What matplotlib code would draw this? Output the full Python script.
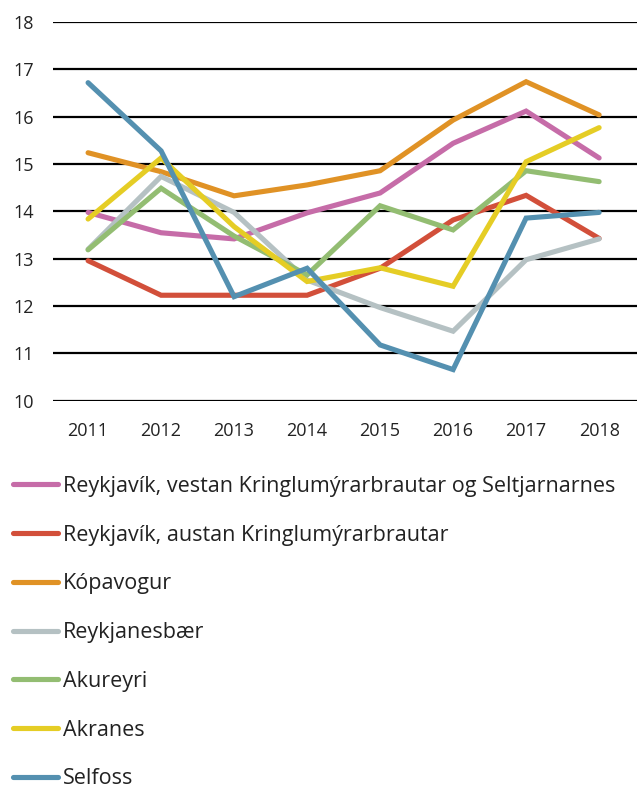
import matplotlib
matplotlib.use("Agg")
import matplotlib.pyplot as plt
import numpy as np

YEARS = ["2011", "2012", "2013", "2014", "2015", "2016", "2017", "2018"]

REYKJAVIK_VESTAN = [13.98, 13.55, 13.42, 13.97, 14.39, 15.44, 16.12, 15.13]
REYKJAVIK_AUSTAN = [12.96, 12.23, 12.23, 12.23, 12.80, 13.82, 14.34, 13.43]
KOPAVOGUR = [15.24, 14.84, 14.33, 14.56, 14.86, 15.93, 16.74, 16.04]
REYKJANESBAER = [13.20, 14.74, 13.98, 12.55, 11.97, 11.47, 12.98, 13.42]
AKUREYRI = [13.19, 14.49, 13.48, 12.66, 14.12, 13.61, 14.86, 14.63]
AKRANES = [13.84, 15.13, 13.68, 12.52, 12.81, 12.42, 15.05, 15.77]
SELFOSS = [16.72, 15.28, 12.20, 12.80, 11.18, 10.66, 13.86, 13.98]

SERIES = [
    ("Reykjavík, vestan Kringlumýrarbrautar og Seltjarnarnes", REYKJAVIK_VESTAN, "#c66ca8"),
    ("Reykjavík, austan Kringlumýrarbrautar", REYKJAVIK_AUSTAN, "#d24f3a"),
    ("Kópavogur", KOPAVOGUR, "#e09225"),
    ("Reykjanesbær", REYKJANESBAER, "#b5c1c3"),
    ("Akureyri", AKUREYRI, "#93bd72"),
    ("Akranes", AKRANES, "#e5cd25"),
    ("Selfoss", SELFOSS, "#5490b0"),
]

plt.rcParams["font.family"] = ["Open Sans", "DejaVu Sans"]

fig = plt.figure(figsize=(6.39, 7.89), dpi=100)
ax = fig.add_axes([0.083, 0.492, 0.914, 0.480])

x = np.arange(len(YEARS))
# draw order so that the blue line sits on top like the reference
draw_order = [3, 4, 1, 0, 2, 5, 6]
handles = {}
for idx in draw_order:
    label, values, color = SERIES[idx]
    (line,) = ax.plot(x, values, color=color, linewidth=3.7, label=label,
                      solid_capstyle="round", solid_joinstyle="miter", zorder=3 + idx)
    handles[idx] = line

ax.set_ylim(10, 18)
ax.set_xlim(-0.48, 7.52)
ax.set_yticks(range(10, 19))
ax.set_xticks(x)
ax.set_xticklabels(YEARS)
ax.yaxis.grid(True, color="black", linewidth=1.6)
ax.set_axisbelow(True)
for spine in ax.spines.values():
    spine.set_visible(False)
ax.tick_params(axis="both", length=0, labelsize=13, colors="#222222")
ax.tick_params(axis="x", pad=15)
ax.tick_params(axis="y", pad=14)

ordered = [handles[i] for i in range(len(SERIES))]
fig.legend(ordered, [s[0] for s in SERIES], loc="upper left",
           bbox_to_anchor=(0.02, 0.397), frameon=False, fontsize=15.5,
           handlelength=2.1, handletextpad=0.23, labelspacing=1.29,
           borderaxespad=0, borderpad=0, labelcolor="#222222")

fig.savefig("out.png", dpi=100)
